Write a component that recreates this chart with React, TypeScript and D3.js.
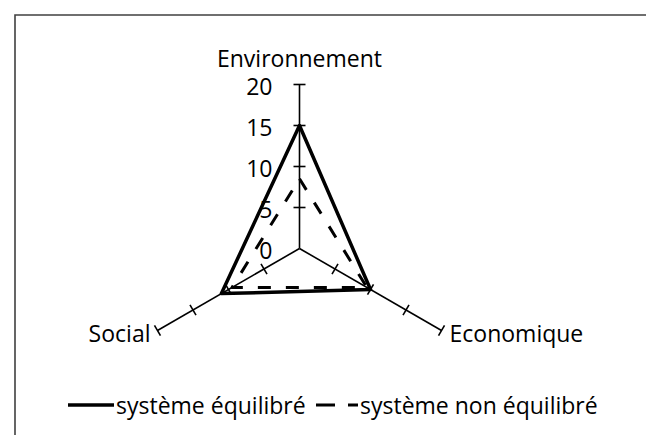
import React from "react";
import * as d3 from "d3";

const categories = ["Environnement", "Economique", "Social"];
const seriesNames = ["système équilibré", "système non équilibré"];
const equilibre = [15, 10, 11];
const nonEquilibre = [8.5, 9.5, 9.5];
const tickValues = [0, 5, 10, 15, 20];

const W = 646;
const H = 435;
const cx = 299.5;
const cy = 248.5;
const FONT = "'Open Sans', sans-serif";
const FS = 23;

export default function App() {
  const r = d3.scaleLinear().domain([0, 20]).range([0, 164]);
  const angle = (i: number) => (i * 2 * Math.PI) / categories.length;
  const pt = (i: number, v: number): [number, number] => {
    const a = angle(i);
    return [cx + r(v) * Math.sin(a), cy - r(v) * Math.cos(a)];
  };
  const line = d3
    .lineRadial<number>()
    .angle((_, i) => angle(i))
    .radius((d) => r(d))
    .curve(d3.curveLinearClosed);

  const tickLen = 6;

  return (
    <svg
      width={W}
      height={H}
      style={{ position: "absolute", left: 0, top: 0, background: "#fff" }}
      fontFamily={FONT}
    >
      <rect x={0} y={0} width={W} height={H} fill="#fff" />
      {/* frame */}
      <path d={`M15,${H + 5} L15,15 L${W + 5},15`} fill="none" stroke="#404040" strokeWidth={1.6} />

      {/* axes */}
      {categories.map((c, i) => {
        const [x2, y2] = pt(i, 20);
        const a = angle(i);
        const px = Math.cos(a);
        const py = Math.sin(a);
        return (
          <g key={c}>
            <line x1={cx} y1={cy} x2={x2} y2={y2} stroke="#000" strokeWidth={1.6} />
            {tickValues
              .filter((t) => t > 0)
              .map((t) => {
                const [tx, ty] = pt(i, t);
                return (
                  <line
                    key={t}
                    x1={tx - px * tickLen}
                    y1={ty - py * tickLen}
                    x2={tx + px * tickLen}
                    y2={ty + py * tickLen}
                    stroke="#000"
                    strokeWidth={1.6}
                  />
                );
              })}
          </g>
        );
      })}

      {/* tick labels */}
      {tickValues.map((t) => (
        <text
          key={t}
          x={cx - 27}
          y={cy - r(t) + 1}
          textAnchor="end"
          dominantBaseline="central"
          fontSize={FS}
          fill="#000"
        >
          {t}
        </text>
      ))}

      {/* series */}
      <path
        d={line(equilibre) || ""}
        transform={`translate(${cx},${cy})`}
        fill="none"
        stroke="#000"
        strokeWidth={3.5}
        strokeLinejoin="round"
      />
      <path
        d={line(nonEquilibre) || ""}
        transform={`translate(${cx},${cy})`}
        fill="none"
        stroke="#000"
        strokeWidth={3}
        strokeDasharray="13,15"
        strokeLinejoin="round"
      />

      {/* category labels */}
      <text x={cx} y={67} textAnchor="middle" fontSize={FS} fill="#000">
        {categories[0]}
      </text>
      <text x={pt(1, 20)[0] + 8} y={pt(1, 20)[1] + 2} textAnchor="start" dominantBaseline="central" fontSize={FS} fill="#000">
        {categories[1]}
      </text>
      <text x={pt(2, 20)[0] - 7} y={pt(2, 20)[1] + 2} textAnchor="end" dominantBaseline="central" fontSize={FS} fill="#000">
        {categories[2]}
      </text>

      {/* legend */}
      <line x1={68} y1={405} x2={114} y2={405} stroke="#000" strokeWidth={3.5} />
      <text x={116} y={405} dominantBaseline="central" fontSize={FS} fill="#000">
        {seriesNames[0]}
      </text>
      <line x1={316} y1={405} x2={358} y2={405} stroke="#000" strokeWidth={3} strokeDasharray="19,13" />
      <text x={360} y={405} dominantBaseline="central" fontSize={FS} fill="#000">
        {seriesNames[1]}
      </text>
    </svg>
  );
}
